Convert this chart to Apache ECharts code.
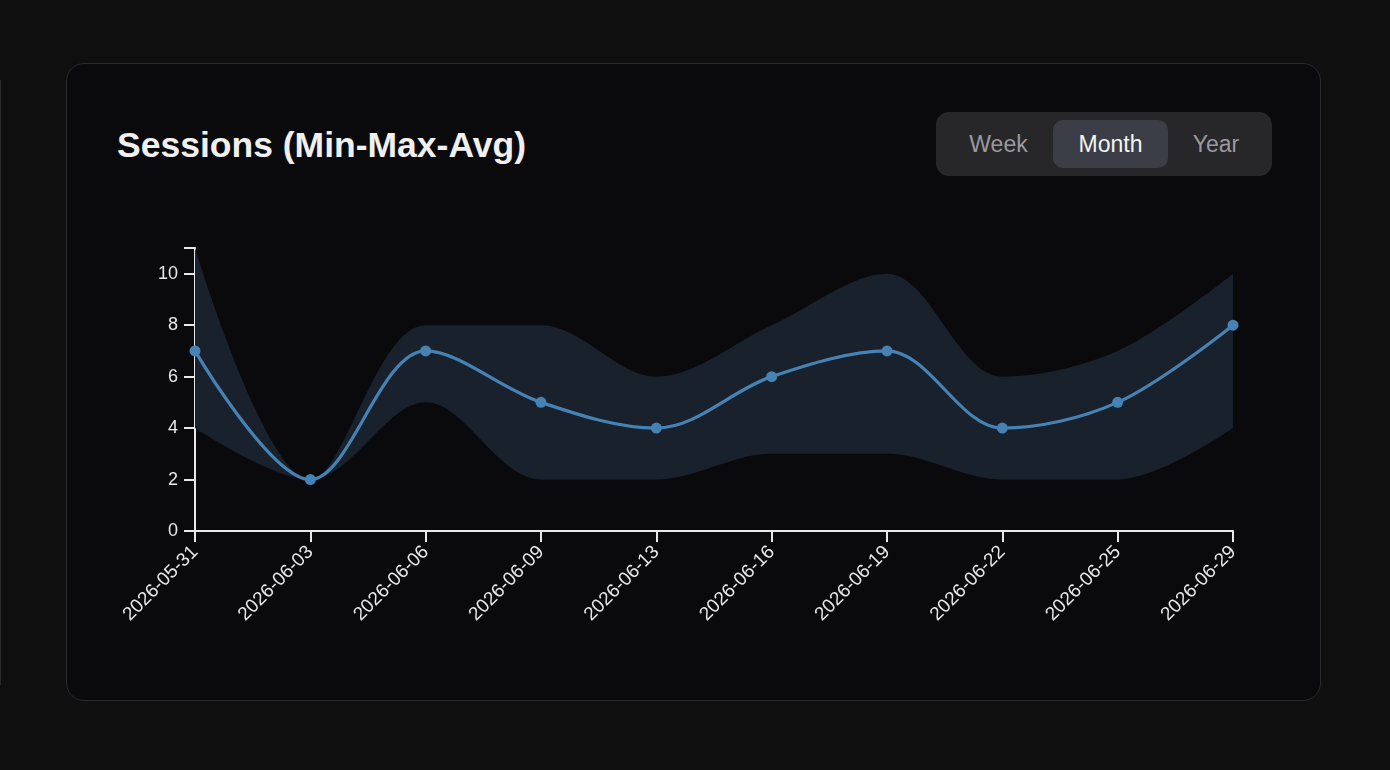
<!DOCTYPE html>
<html>
<head>
<meta charset="utf-8">
<script src="https://cdn.jsdelivr.net/npm/echarts@6/dist/echarts.min.js"></script>
<style>
    html, body {
        margin: 0;
        padding: 0;
        width: 1390px;
        height: 770px;
        background: #0f0f10;
        overflow: hidden;
        font-family: "Liberation Sans", Arial, sans-serif;
    }
    .sideLine {
        position: absolute;
        left: 0;
        top: 80px;
        width: 1px;
        height: 605px;
        background: #2a2a2c;
    }
    .card {
        position: absolute;
        left: 66px;
        top: 63px;
        width: 1253px;
        height: 636px;
        background: #0a0a0c;
        border: 1px solid #2b2b2e;
        border-radius: 18px;
    }
    .title {
        position: absolute;
        left: 50px;
        top: 61px;
        font-size: 35.5px;
        font-weight: bold;
        color: #f0f0f0;
    }
    .toggle {
        position: absolute;
        left: 869px;
        top: 48px;
        width: 336px;
        height: 64px;
        background: #27272a;
        border-radius: 13px;
    }
    .toggle div {
        position: absolute;
        top: 8px;
        height: 48px;
        line-height: 48px;
        text-align: center;
        font-size: 23px;
        color: #9a9a9e;
        border-radius: 10px;
    }
    .toggle .active {
        background: #3b3e46;
        color: #f4f4f4;
    }
    #chart {
        position: absolute;
        left: 0;
        top: 0;
        width: 1390px;
        height: 770px;
    }
</style>
</head>
<body>
<div class="sideLine"></div>
<div class="card">
    <div class="title">Sessions (Min-Max-Avg)</div>
    <div class="toggle">
        <div style="left:8px;width:109px">Week</div>
        <div class="active" style="left:117px;width:115px">Month</div>
        <div style="left:232px;width:96px">Year</div>
    </div>
</div>
<div id="chart"></div>
<script>
// 日期
var dates = ['2026-05-31', '2026-06-03', '2026-06-06', '2026-06-09', '2026-06-13',
             '2026-06-16', '2026-06-19', '2026-06-22', '2026-06-25', '2026-06-29'];
var minValues = [4, 2, 5, 2, 2, 3, 3, 2, 2, 4];
var maxValues = [11, 2, 8, 8, 6, 8, 10, 6, 7, 10];
var avgValues = [7, 2, 7, 5, 4, 6, 7, 4, 5, 8];
var yTicks = [0, 2, 4, 6, 8, 10];

// band = max - min stacked on min
var bandValues = maxValues.map(function (v, i) { return v - minValues[i]; });

var axisColor = '#e8e8e8';
var curve = 0.34;
var myChart = echarts.init(document.getElementById('chart'));
var option = {
    backgroundColor: 'transparent',
    animation: false,
    grid: {
        left: 195,
        right: 157,
        top: 248,
        bottom: 239
    },
    xAxis: {
        type: 'category',
        data: dates,
        boundaryGap: false,
        axisLine: { lineStyle: { color: axisColor, width: 2 } },
        axisTick: { length: 11, lineStyle: { color: axisColor, width: 2 } },
        axisLabel: {
            rotate: 45,
            margin: 18,
            color: axisColor,
            fontSize: 19,
            fontFamily: 'Liberation Sans'
        },
        splitLine: { show: false }
    },
    yAxis: {
        type: 'value',
        min: 0,
        max: 11,
        interval: 2,
        axisLine: { show: true, lineStyle: { color: axisColor, width: 2 } },
        axisTick: { show: true, length: 11, lineStyle: { color: axisColor, width: 2 } },
        axisLabel: {
            margin: 17,
            color: axisColor,
            fontSize: 18,
            fontFamily: 'Liberation Sans',
            formatter: function (v) { return yTicks.indexOf(v) >= 0 ? String(v) : ''; }
        },
        splitLine: { show: false }
    },
    series: [
        {
            name: 'min',
            type: 'line',
            data: minValues,
            stack: 'band',
            smooth: curve,
            symbol: 'none',
            lineStyle: { opacity: 0 },
            z: 1
        },
        {
            name: 'range',
            type: 'line',
            data: bandValues,
            stack: 'band',
            smooth: curve,
            symbol: 'none',
            lineStyle: { opacity: 0 },
            areaStyle: { color: '#19212d', opacity: 1 },
            z: 1
        },
        {
            name: 'avg',
            type: 'line',
            data: avgValues,
            smooth: curve,
            symbol: 'circle',
            symbolSize: 11,
            showAllSymbol: true,
            itemStyle: { color: '#4682b4' },
            lineStyle: { color: '#4682b4', width: 3.2 },
            z: 3
        }
    ]
};
myChart.setOption(option);
</script>
</body>
</html>
